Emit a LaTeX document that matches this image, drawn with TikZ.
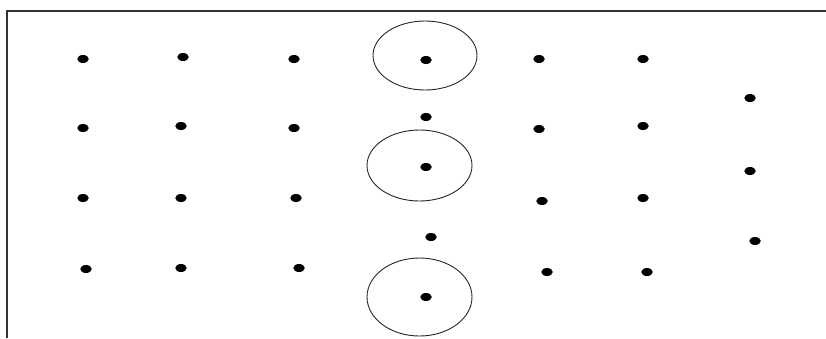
\documentclass[tikz,border=0pt]{standalone}
\usetikzlibrary{shapes.geometric}
\begin{document}
\begin{tikzpicture}[x=1pt,y=-1pt,
  dotn/.style={ellipse,fill=black,inner sep=0pt,minimum width=11.5pt,minimum height=8pt},
  ring/.style={ellipse,draw=black!85,line width=0.9pt,inner sep=0pt},
  frameline/.style={draw=black!80,line width=1.6pt}]
\useasboundingbox (0,0) rectangle (826,338);
\draw[frameline] (7,338) -- (7,11) -- (826,11);
% row 1
\node[dotn] (a1) at (83,59) {};
\node[dotn] (a2) at (183,57) {};
\node[dotn] (a3) at (294,59) {};
\node[dotn] (a4) at (426,60) {};
\node[dotn] (a5) at (539,59) {};
\node[dotn] (a6) at (643,59) {};
% row 2
\node[dotn] (b1) at (83,128) {};
\node[dotn] (b2) at (181,126) {};
\node[dotn] (b3) at (294,128) {};
\node[dotn] (b4) at (426,117) {};
\node[dotn] (b5) at (539,129) {};
\node[dotn] (b6) at (643,126) {};
\node[dotn] (b7) at (750,98) {};
% row 3
\node[dotn] (c1) at (83,198) {};
\node[dotn] (c2) at (181,198) {};
\node[dotn] (c3) at (296,198) {};
\node[dotn] (c4) at (426,167) {};
\node[dotn] (c5) at (542,201) {};
\node[dotn] (c6) at (643,198) {};
\node[dotn] (c7) at (750,171) {};
% row 4
\node[dotn] (d1) at (86,269) {};
\node[dotn] (d2) at (181,268) {};
\node[dotn] (d3) at (299,268) {};
\node[dotn] (d4) at (431,237) {};
\node[dotn] (d5) at (547,272) {};
\node[dotn] (d6) at (647,272) {};
\node[dotn] (d7) at (755,241) {};
\node[dotn] (e4) at (426,297) {};
% rings
\node[ring,minimum width=104pt,minimum height=69pt] (r1) at (425,55.5) {};
\node[ring,minimum width=105pt,minimum height=71pt] (r2) at (419.5,165.5) {};
\node[ring,minimum width=105pt,minimum height=78pt] (r3) at (419.5,297) {};
\end{tikzpicture}
\end{document}
